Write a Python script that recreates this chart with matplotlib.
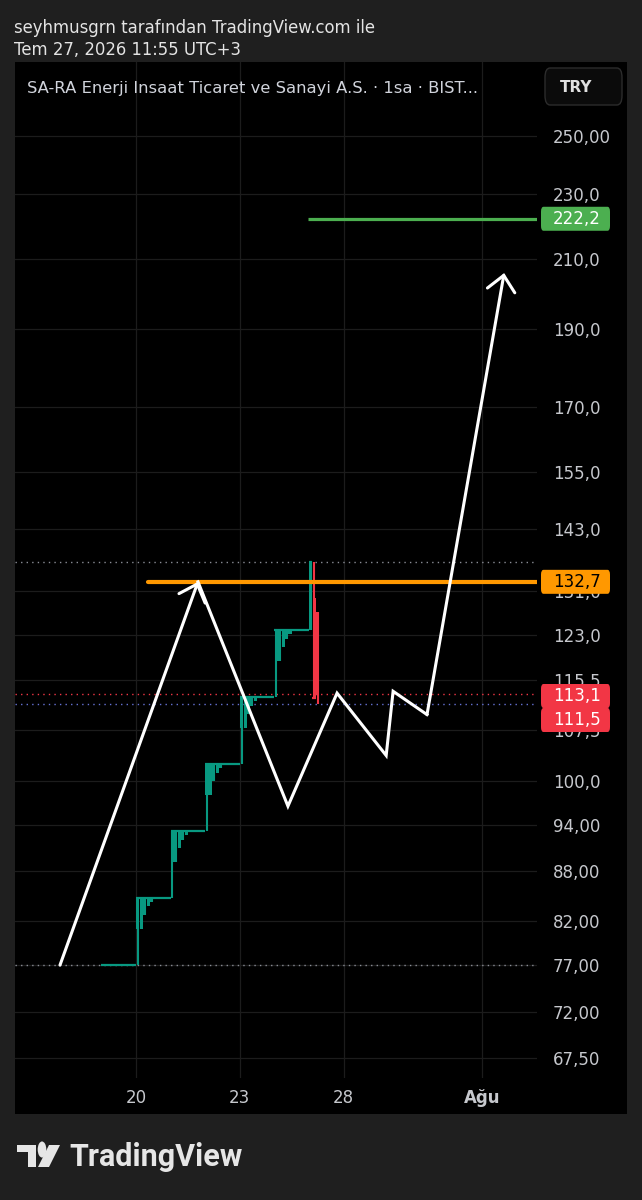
import numpy as np
import pandas as pd
import matplotlib.pyplot as plt
from matplotlib.patches import Rectangle, FancyBboxPatch, Circle, Polygon
from matplotlib.ticker import NullLocator

# --- data (x = trading-day index, 0 = Jul 20) ---
# Jul 17: locked at 77 all day
flat_day = -1
flat_close = [77.0, 77.0, 77.0, 77.0, 77.0, 77.0, 77.0, 77.0, 77.0, 77.0]

# Jul 20 .. Jul 24: limit-up days, 10 hourly bars each
step_days = [0, 1, 2, 3, 4]
step_prev = [77.0, 84.7, 93.15, 102.45, 112.7]
step_close = [84.7, 93.15, 102.45, 112.7, 123.95]
step_open = [
    [81.1, 81.1, 82.7, 83.7, 84.2, 84.7, 84.7, 84.7, 84.7, 84.7],
    [89.2, 89.2, 90.95, 92.0, 92.6, 93.15, 93.15, 93.15, 93.15, 93.15],
    [98.1, 98.1, 100.0, 101.2, 101.9, 102.45, 102.45, 102.45, 102.45, 102.45],
    [107.9, 107.9, 110.0, 111.3, 112.1, 112.7, 112.7, 112.7, 112.7, 112.7],
    [118.6, 118.6, 121.0, 122.4, 123.2, 123.95, 123.95, 123.95, 123.95, 123.95],
]

# Jul 27 (today, 11:55)
today = 5
today_open = [123.95, 129.7, 127.1]
today_high = [136.4, 136.4, 127.1]
today_low = [123.95, 112.6, 111.5]
today_close = [136.4, 112.6, 113.1]

# drawn lines / levels
resistance = 132.7
resistance_from = 0.35
target = 222.2
target_from = 4.97
day_high = 136.4
last_price = 113.1
bid_price = 111.5
base_price = 77.0

# hand-drawn zigzag path (day index, price)
path_x = [-2.20, 1.79, 4.39, 5.81, 7.23, 7.43, 8.41, 10.64]
path_y = [77.0, 132.7, 96.5, 113.3, 103.7, 113.6, 109.9, 205.7]

ytick_vals = [250, 230, 210, 190, 170, 155, 143, 131, 123, 115.5, 107.5,
              100, 94, 88, 82, 77, 72, 67.5]
ytick_labels = ['250,00', '230,0', '210,0', '190,0', '170,0', '155,0', '143,0',
                '131,0', '123,0', '115,5', '107,5', '100,0', '94,00', '88,00',
                '82,00', '77,00', '72,00', '67,50']
xtick_vals = [0, 3, 6, 10]
xtick_labels = ['20', '23', '28', 'Ağu']

# build hourly OHLC table
rows = []
for i, c in enumerate(flat_close):
    rows.append((flat_day + 0.05 + 0.1 * i, c, c, c, c))
for d, p, n, opens in zip(step_days, step_prev, step_close, step_open):
    for i, o in enumerate(opens):
        low = p if i == 0 else o
        rows.append((d + 0.05 + 0.1 * i, o, n, low, n))
for i in range(len(today_open)):
    rows.append((today + 0.05 + 0.1 * i, today_open[i], today_high[i],
                 today_low[i], today_close[i]))
bars = pd.DataFrame(rows, columns=['x', 'open', 'high', 'low', 'close'])

# --- figure ---
W, H = 642, 1200
BG = '#1f1f1f'
GREEN = '#089981'
RED = '#F23645'
ORANGE = '#FF9800'
LGREEN = '#4CAF50'
TXT = '#c6c8cd'

plt.rcParams['font.family'] = ['DejaVu Sans']
fig = plt.figure(figsize=(W / 100, H / 100), dpi=100, facecolor=BG)


def fx(px):
    return px / W


def fy(py):
    return 1 - py / H


fig.add_artist(Rectangle((fx(15), fy(1114)), fx(627) - fx(15), fy(62) - fy(1114),
                         transform=fig.transFigure, facecolor='black',
                         edgecolor='none', zorder=0))

ax = fig.add_axes([fx(15), fy(1078), fx(537) - fx(15), fy(62) - fy(1078)])
ax.set_facecolor('none')
ax.set_yscale('log')
ax.set_ylim(65.6, 277.6)
ax.set_xlim(-3.5, 11.59)
ax.yaxis.set_minor_locator(NullLocator())
ax.set_yticks(ytick_vals)
ax.set_yticklabels(ytick_labels)
ax.set_xticks(xtick_vals)
ax.set_xticklabels(xtick_labels)
ax.yaxis.tick_right()
ax.tick_params(axis='y', length=0, pad=11.5, labelsize=12, labelcolor=TXT)
ax.tick_params(axis='x', length=0, pad=8, labelsize=12, labelcolor=TXT)
ax.get_xticklabels()[-1].set_fontweight('bold')
for s in ax.spines.values():
    s.set_visible(False)
ax.grid(True, color='#1c1c1c', lw=0.9)
ax.set_axisbelow(True)

# dotted price lines
ax.axhline(day_high, color='#8a8d96', lw=1, ls=(0, (1, 3)), zorder=1)
ax.axhline(last_price, color=RED, lw=1, ls=(0, (1, 3)), zorder=1)
ax.axhline(bid_price, color='#6673d6', lw=1, ls=(0, (1, 3)), zorder=1)
ax.axhline(base_price, color='#8a8d96', lw=1, ls=(0, (1, 3)), zorder=1)

# candles
up = bars['close'] >= bars['open']
col = np.where(up, GREEN, RED)
ax.vlines(bars['x'], bars['low'], bars['high'], colors=col, lw=1.5, zorder=3)
body_lo = np.minimum(bars['open'], bars['close'])
body_hi = np.maximum(bars['open'], bars['close'])
ax.bar(bars['x'], body_hi - body_lo, bottom=body_lo, width=0.088, color=col,
       linewidth=0, zorder=3)
ax.hlines(bars['close'], bars['x'] - 0.05, bars['x'] + 0.05, colors=col,
          lw=1.6, zorder=3)

# horizontal levels
ax.plot([resistance_from, 11.59], [resistance, resistance], color=ORANGE,
        lw=3, solid_capstyle='round', zorder=4)
ax.plot([target_from, 11.59], [target, target], color=LGREEN, lw=2.3,
        solid_capstyle='butt', zorder=4)

# zigzag drawing
arrow = dict(arrowstyle='->,head_length=0.55,head_width=0.5', color='white',
             lw=2.2, shrinkA=0, shrinkB=0, mutation_scale=20,
             joinstyle='miter')
ax.plot(path_x[1:7], path_y[1:7], color='white', lw=2.2,
        solid_joinstyle='miter', zorder=5)
ax.annotate('', xy=(path_x[1], path_y[1]), xytext=(path_x[0], path_y[0]),
            arrowprops=arrow, zorder=5)
ax.annotate('', xy=(path_x[7], path_y[7]), xytext=(path_x[6], path_y[6]),
            arrowprops=arrow, zorder=5)

# price labels on the scale
fig.canvas.draw()


def price_px(v):
    return H - ax.transData.transform((0, v))[1]


def scale_label(py, text, face, tcol):
    fig.add_artist(FancyBboxPatch((fx(541), fy(py + 12)), fx(610) - fx(541),
                                  fy(py - 12) - fy(py + 12),
                                  boxstyle='round,pad=0,rounding_size=0.004',
                                  transform=fig.transFigure, facecolor=face,
                                  edgecolor='none', zorder=10))
    fig.text(fx(553), fy(py), text, color=tcol, fontsize=12, va='center',
             ha='left', zorder=11)


scale_label(price_px(target), '222,2', LGREEN, 'white')
scale_label(price_px(resistance), '132,7', ORANGE, 'black')
scale_label(696, '113,1', RED, 'white')
scale_label(720, '111,5', RED, 'white')

# header texts
fig.text(fx(14), fy(28), 'seyhmusgrn tarafından TradingView.com ile',
         color='#e4e4e4', fontsize=11.9, va='center', ha='left')
fig.text(fx(14), fy(50), 'Tem 27, 2026 11:55 UTC+3', color='#e4e4e4',
         fontsize=11.9, va='center', ha='left')
fig.text(fx(27), fy(88), 'SA-RA Enerji Insaat Ticaret ve Sanayi A.S. · 1sa · BIST...',
         color='#d1d4dc', fontsize=11.8, va='center', ha='left', zorder=12)
fig.add_artist(FancyBboxPatch((fx(545), fy(105)), fx(622) - fx(545), fy(68) - fy(105),
                              boxstyle='round,pad=0,rounding_size=0.008',
                              transform=fig.transFigure, facecolor='#0b0b0b',
                              edgecolor='#2c2c2c', lw=1, zorder=12))
fig.text(fx(576), fy(87), 'TRY', color='#e0e0e0', fontsize=11, fontweight='bold',
         va='center', ha='center', zorder=13)

# TradingView logo
LOGO = '#e6e6e6'
fig.add_artist(Polygon([(fx(17), fy(1145)), (fx(36), fy(1145)), (fx(36), fy(1167)),
                        (fx(28), fy(1167)), (fx(28), fy(1152)), (fx(17), fy(1152))],
                       closed=True, transform=fig.transFigure, facecolor=LOGO,
                       edgecolor='none'))
fig.add_artist(Circle((fx(42), fy(1149.5)), 4.3 / W, transform=fig.transFigure,
                      facecolor=LOGO, edgecolor='none'))
fig.add_artist(Polygon([(fx(49), fy(1145)), (fx(60), fy(1145)), (fx(49), fy(1167)),
                        (fx(38), fy(1167))], closed=True, transform=fig.transFigure,
                       facecolor=LOGO, edgecolor='none'))
fig.text(fx(69), fy(1157), 'TradingView', color=LOGO, fontsize=22,
         fontweight='bold', family=['Roboto', 'DejaVu Sans'], va='center', ha='left')

fig.savefig('out.png', dpi=100, facecolor=BG)
